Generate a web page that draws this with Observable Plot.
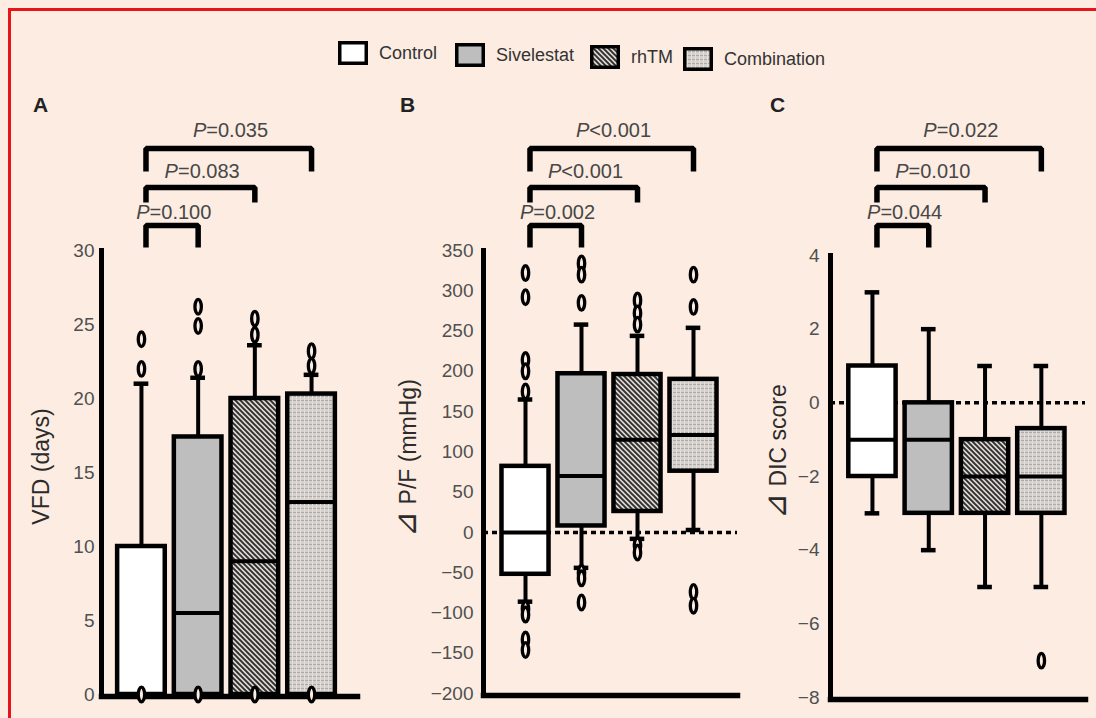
<!DOCTYPE html>
<html>
<head>
<meta charset="utf-8">
<script src="https://cdn.jsdelivr.net/npm/d3@7"></script>
<script src="https://cdn.jsdelivr.net/npm/@observablehq/plot@0.6"></script>
<style>
  html, body { margin: 0; padding: 0; background: #fcece2; }
  #root { position: relative; width: 1096px; height: 718px; overflow: hidden; background: #fcece2;
          font-family: "Liberation Sans", Arial, sans-serif; }
  .redtop { position: absolute; left: 8px; top: 8px; right: 0; height: 3px; background: #e8141b; }
  .redleft { position: absolute; left: 8px; top: 8px; bottom: 0; width: 3px; background: #e8141b; }
  .panel { position: absolute; top: 0; }
  .letter { position: absolute; font-weight: bold; font-size: 21px; line-height: 24px; color: #222; }
  .leg { position: absolute; display: flex; align-items: center; height: 24px; }
  .leg span { font-size: 18px; color: #333; margin-left: 11px; }
</style>
</head>
<body>
<div id="root">
  <svg width="0" height="0" style="position:absolute">
    <defs>
      <pattern id="pat-rhtm" patternUnits="userSpaceOnUse" width="5" height="5">
        <rect width="5" height="5" fill="#ddd7d1"></rect>
        <path d="M-1,-1 L6,6 M-1,4 L1,6 M4,-1 L6,1" stroke="#2e2e2e" stroke-width="1.9"></path>
      </pattern>
      <pattern id="pat-comb" patternUnits="userSpaceOnUse" width="4" height="4">
        <rect width="4" height="4" fill="#d4d0cd"></rect>
        <rect width="4" height="1" fill="#aeaaa8"></rect>
        <rect width="1" height="4" fill="#e6ded8"></rect>
      </pattern>
    </defs>
  </svg>
  <div class="redtop"></div>
  <div class="redleft"></div>
</div>
<script>
// ---------- data ----------
const groups = ["Control", "Sivelestat", "rhTM", "Combination"];

// Panel A: VFD (days)
const vfdQ1 = [0, 0, 0, 0];
const vfdMedian = [0, 5.5, 9, 13];
const vfdQ3 = [10, 17.4, 20, 20.3];
const vfdLow = [0, 0, 0, 0];
const vfdHigh = [21, 21.4, 23.6, 21.6];
const vfdOutliers = [[0, 22, 24], [0, 22, 24.9, 26.2], [0, 24.3, 25.4], [0, 22.2, 23.2]];
const vfdTicks = [0, 5, 10, 15, 20, 25, 30];
const vfdP = ["P=0.100", "P=0.083", "P=0.035"];

// Panel B: delta P/F (mmHg)
const pfQ1 = [-52, 8, 26, 76];
const pfMedian = [0, 70, 115, 121];
const pfQ3 = [82, 197, 196, 190];
const pfLow = [-86, -44, -8, 3];
const pfHigh = [165, 258, 244, 254];
const pfOutliers = [
  [322, 292, 214, 200, 175, -95, -102, -133, -146],
  [334, 320, 285, -50, -57, -87],
  [288, 272, 258, -16, -25],
  [320, 280, -74, -91]
];
const pfTicks = [-200, -150, -100, -50, 0, 50, 100, 150, 200, 250, 300, 350];
const pfP = ["P=0.002", "P<0.001", "P<0.001"];

// Panel C: delta DIC score
const dicQ1 = [-2, -3, -3, -3];
const dicMedian = [-1, -1, -2, -2];
const dicQ3 = [1, 0, -1, -0.7];
const dicLow = [-3, -4, -5, -5];
const dicHigh = [3, 2, 1, 1];
const dicOutliers = [[], [], [], [-7]];
const dicTicks = [-8, -6, -4, -2, 0, 2, 4];
const dicP = ["P=0.044", "P=0.010", "P=0.022"];

// each bracket compares Control (group 0) with this group
const comparedWith = [1, 2, 3];

// ---------- styles / layout ----------
const BG = "#fcece2";
const fills = ["#ffffff", "#bebebe", "url(#pat-rhtm)", "url(#pat-comb)"];
const bracketLevelPx = [225, 187, 148];
const bracketLegPx = [247, 202, 171];
const labelPx = [212.5, 171, 130.5];
const HALF = 0.42, CAP = 0.13;

const ellipseSymbol = {
  draw(ctx) {
    const rx = 3.2, ry = 7.3, k = 0.5523;
    ctx.moveTo(rx, 0);
    ctx.bezierCurveTo(rx, ry * k, rx * k, ry, 0, ry);
    ctx.bezierCurveTo(-rx * k, ry, -rx, ry * k, -rx, 0);
    ctx.bezierCurveTo(-rx, -ry * k, -rx * k, -ry, 0, -ry);
    ctx.bezierCurveTo(rx * k, -ry, rx, -ry * k, rx, 0);
    ctx.closePath();
  }
};

function makePanel(cfg) {
  const H = 718;
  const rows = groups.map((g, i) => ({
    i, g, q1: cfg.q1[i], med: cfg.med[i], q3: cfg.q3[i], lo: cfg.lo[i], hi: cfg.hi[i]
  }));
  const outRows = groups.flatMap((g, i) => cfg.out[i].map(v => ({i, g, v})));
  const [yMin, yMax] = [cfg.ticks[0], cfg.ticks[cfg.ticks.length - 1]];
  const frameH = H - cfg.marginTop - cfg.marginBottom;
  const pxToY = px => yMax - (px - cfg.marginTop) * (yMax - yMin) / frameH;
  const bracketPts = comparedWith.flatMap((b, k) => {
    const yl = pxToY(bracketLevelPx[k]), yg = pxToY(bracketLegPx[k]);
    return [
      {k, x: 0.08, y: yg}, {k, x: 0.08, y: yl},
      {k, x: b, y: yl}, {k, x: b, y: yg}
    ];
  });
  const labels = comparedWith.map((b, k) => ({x: b / 2, y: pxToY(labelPx[k]), text: cfg.p[k]}));

  const marks = [];
  if (cfg.zeroLine) marks.push(Plot.ruleY([0], {stroke: "black", strokeWidth: 3.5, strokeDasharray: "5,4"}));
  marks.push(
    Plot.ruleX(rows, {x: "i", y1: "lo", y2: "q1", stroke: "black", strokeWidth: 4}),
    Plot.ruleX(rows, {x: "i", y1: "q3", y2: "hi", stroke: "black", strokeWidth: 4}),
    Plot.ruleY(rows, {y: "lo", x1: d => d.i - CAP, x2: d => d.i + CAP, stroke: "black", strokeWidth: 4.5}),
    Plot.ruleY(rows, {y: "hi", x1: d => d.i - CAP, x2: d => d.i + CAP, stroke: "black", strokeWidth: 4.5}),
    Plot.rect(rows, {x1: d => d.i - HALF, x2: d => d.i + HALF, y1: "q1", y2: "q3", fill: "g", stroke: "black", strokeWidth: 4.5}),
    Plot.ruleY(rows, {y: "med", x1: d => d.i - HALF, x2: d => d.i + HALF, stroke: "black", strokeWidth: 4}),
    Plot.frame({anchor: "left", stroke: "black", strokeWidth: 5, strokeLinecap: "square"}),
    Plot.frame({anchor: "bottom", stroke: "black", strokeWidth: 5.5, strokeLinecap: "square", dy: 2}),
    Plot.dot(outRows, {x: "i", y: "v", symbol: ellipseSymbol, stroke: "black", strokeWidth: 3.3, fill: BG}),
    Plot.line(bracketPts, {x: "x", y: "y", z: "k", stroke: "black", strokeWidth: 5.5, strokeLinejoin: "miter", strokeLinecap: "butt"}),
    Plot.text(labels, {x: "x", y: "y", text: "text", fontSize: 20, fill: "#474747", dx: 4}),
    Plot.text([cfg.title], {frameAnchor: "left", textAnchor: "middle", text: d => d, rotate: -90, fontSize: 23, fill: "#2b2b2b", dx: cfg.titleDx, dy: cfg.titleDy})
  );

  const svg = Plot.plot({
    width: cfg.width, height: H,
    marginLeft: cfg.marginLeft, marginRight: cfg.marginRight,
    marginTop: cfg.marginTop, marginBottom: cfg.marginBottom,
    x: {type: "linear", domain: [-0.5, groups.length - 0.5], insetLeft: cfg.insetLeft, insetRight: cfg.insetRight, axis: null},
    y: {domain: [yMin, yMax], ticks: cfg.ticks, tickSize: 0, tickPadding: cfg.tickPadding, label: null},
    color: {domain: groups, range: fills},
    style: {background: "transparent", color: "#505050", fontFamily: "Liberation Sans, Arial, sans-serif", fontSize: "19px", overflow: "visible"},
    marks
  });
  const ns = "http://www.w3.org/2000/svg";
  svg.querySelectorAll("text").forEach(t => {
    const s = t.textContent;
    if (/^P[=<]/.test(s)) {
      // italic "P" in the significance labels
      while (t.firstChild) t.removeChild(t.firstChild);
      const a = document.createElementNS(ns, "tspan");
      a.setAttribute("font-style", "italic");
      a.textContent = s[0];
      const b = document.createElementNS(ns, "tspan");
      b.textContent = s.slice(1);
      t.append(a, b);
    } else if (s.startsWith("⊿")) {
      // larger delta triangle in the axis titles
      while (t.firstChild) t.removeChild(t.firstChild);
      const a = document.createElementNS(ns, "tspan");
      a.setAttribute("font-size", "31");
      a.textContent = s[0];
      const b = document.createElementNS(ns, "tspan");
      b.textContent = s.slice(1);
      t.append(a, b);
    }
  });
  svg.classList.add("panel");
  svg.style.left = cfg.left + "px";
  svg.style.position = "absolute";
  svg.style.top = "0px";
  svg.style.maxWidth = "none";
  return svg;
}

const root = document.getElementById("root");

root.append(makePanel({
  left: 0, width: 362, marginLeft: 101, marginRight: 5, marginTop: 250, marginBottom: 24,
  insetLeft: 11.6, insetRight: 17.6, tickPadding: 7,
  q1: vfdQ1, med: vfdMedian, q3: vfdQ3, lo: vfdLow, hi: vfdHigh, out: vfdOutliers,
  ticks: vfdTicks, p: vfdP, title: "VFD (days)", titleDx: -60, titleDy: -6, zeroLine: false
}));
root.append(makePanel({
  left: 368, width: 374, marginLeft: 115, marginRight: 5, marginTop: 250, marginBottom: 25,
  insetLeft: 14, insetRight: 16, tickPadding: 10,
  q1: pfQ1, med: pfMedian, q3: pfQ3, lo: pfLow, hi: pfHigh, out: pfOutliers,
  ticks: pfTicks, p: pfP, title: "⊿ P/F (mmHg)", titleDx: -75, titleDy: -14, zeroLine: true
}));
root.append(makePanel({
  left: 736, width: 360, marginLeft: 94, marginRight: 11, marginTop: 255, marginBottom: 21,
  insetLeft: 13.8, insetRight: 16, tickPadding: 11,
  q1: dicQ1, med: dicMedian, q3: dicQ3, lo: dicLow, hi: dicHigh, out: dicOutliers,
  ticks: dicTicks, p: dicP, title: "⊿ DIC score", titleDx: -52, titleDy: -25, zeroLine: true
}));

// panel letters
const panelLetters = ["A", "B", "C"];
const letterLeft = [33, 400, 770];
panelLetters.forEach((L, k) => {
  const d = document.createElement("div");
  d.className = "letter";
  d.style.left = letterLeft[k] + "px";
  d.style.top = "93px";
  d.textContent = L;
  root.append(d);
});

// legend
const legendLeft = [338, 455, 590, 683];
const legendTop = [41, 43, 45, 47];
groups.forEach((g, i) => {
  const item = document.createElement("div");
  item.className = "leg";
  item.style.left = legendLeft[i] + "px";
  item.style.top = legendTop[i] + "px";
  item.innerHTML = `<svg width="30" height="24"><rect x="1.75" y="1.75" width="26.5" height="20.5" fill="${fills[i]}" stroke="black" stroke-width="3.5"></rect></svg><span>${g}</span>`;
  root.append(item);
});
</script>
</body>
</html>
